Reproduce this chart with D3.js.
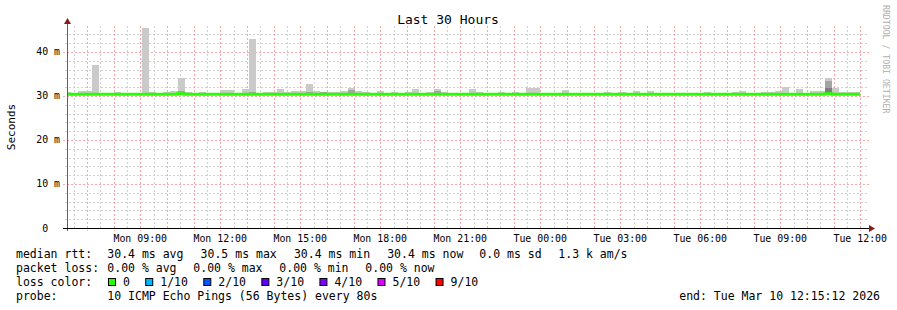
<!DOCTYPE html>
<html>
<head>
<meta charset="utf-8">
<script src="https://cdn.jsdelivr.net/npm/d3@7/dist/d3.min.js"></script>
<style>
body { margin: 0; background: #fff; }
text { font-family: "DejaVu Sans Mono", monospace; fill: #000; }
</style>
</head>
<body>
<div id="chart"></div>
<script>
// Graph window: last 30 hours up to the render time.
var graphEnd = new Date(Date.UTC(2026, 2, 10, 12, 15, 12));
var graphStart = new Date(graphEnd.getTime() - 30 * 3600 * 1000);

// One value per 16 minute consolidation step, first step starts Mon 06:08.
var firstStep = new Date(Date.UTC(2026, 2, 9, 6, 8, 0));
var stepSeconds = 960;

// median rtt per step (ms)
var medianRtt = [
  30.4, 30.4, 30.4, 30.4, 30.4, 30.4, 30.4, 30.4, 30.4, 30.4, 30.4, 30.4, 30.4, 30.4, 30.4, 30.4,
  30.5, 30.4, 30.4, 30.4, 30.4, 30.4, 30.4, 30.4, 30.4, 30.4, 30.4, 30.4, 30.4, 30.4, 30.4, 30.4,
  30.4, 30.4, 30.4, 30.4, 30.4, 30.4, 30.4, 30.4, 30.4, 30.4, 30.4, 30.4, 30.4, 30.4, 30.4, 30.4,
  30.4, 30.4, 30.4, 30.4, 30.4, 30.4, 30.4, 30.4, 30.4, 30.4, 30.4, 30.4, 30.4, 30.4, 30.4, 30.4,
  30.4, 30.4, 30.4, 30.4, 30.4, 30.4, 30.4, 30.4, 30.4, 30.4, 30.4, 30.4, 30.4, 30.4, 30.4, 30.4,
  30.4, 30.4, 30.4, 30.4, 30.4, 30.4, 30.4, 30.4, 30.4, 30.4, 30.4, 30.4, 30.4, 30.4, 30.4, 30.4,
  30.4, 30.4, 30.4, 30.4, 30.4, 30.4, 30.4, 30.4, 30.4, 30.4, 30.4, 30.5, 30.4, 30.4, 30.4, 30.4
];

// smoke: lowest ping and the upper pings (ping10, ping9, ping8) per step (ms)
var smokeLow = 30.2;
var smokeTop = [
  31.0, 30.5, 31.15, 31.15, 37.0, 30.5, 30.5, 30.85, 30.5, 30.5, 30.6, 45.5, 30.85, 30.5, 30.85, 31.15,
  34.1, 30.85, 30.5, 30.85, 30.6, 30.6, 31.4, 31.4, 30.6, 31.6, 42.95, 30.6, 30.85, 30.85, 31.6, 30.85,
  31.1, 31.1, 32.7, 31.1, 30.85, 30.85, 30.85, 31.1, 31.8, 31.1, 30.85, 30.5, 31.1, 30.5, 30.85, 30.5,
  30.85, 31.6, 30.5, 30.85, 31.6, 30.85, 30.5, 30.5, 30.5, 31.6, 30.85, 30.5, 30.5, 30.85, 30.5, 30.85,
  30.6, 31.8, 31.8, 30.5, 30.7, 30.5, 31.4, 30.5, 30.5, 30.5, 30.7, 30.5, 30.85, 30.7, 30.85, 30.5,
  31.1, 30.5, 31.1, 30.5, 30.5, 30.5, 30.5, 30.5, 30.7, 30.5, 30.85, 30.7, 30.5, 30.7, 30.85, 31.1,
  30.5, 30.5, 30.85, 30.85, 31.1, 32.0, 30.7, 31.6, 30.7, 31.1, 31.1, 34.1, 31.8, 30.85, 30.85, 30.85
];
var smokeTop2 = [
  30.4, 30.4, 30.4, 30.4, 30.4, 30.4, 30.4, 30.4, 30.4, 30.4, 30.4, 30.4, 30.4, 30.4, 30.4, 30.4,
  31.1, 30.4, 30.4, 30.4, 30.4, 30.4, 30.4, 30.4, 30.4, 30.4, 30.8, 30.4, 30.4, 30.4, 30.4, 30.4,
  30.4, 30.4, 31.0, 30.4, 30.8, 30.4, 30.4, 30.4, 31.4, 30.4, 30.4, 30.4, 30.4, 30.4, 30.4, 30.4,
  30.4, 30.4, 30.4, 30.4, 31.1, 30.4, 30.4, 30.4, 30.4, 30.4, 30.4, 30.4, 30.4, 30.4, 30.4, 30.4,
  30.4, 30.4, 30.4, 30.4, 30.4, 30.4, 30.4, 30.4, 30.4, 30.4, 30.4, 30.4, 30.4, 30.4, 30.4, 30.4,
  30.4, 30.4, 30.4, 30.4, 30.4, 30.4, 30.4, 30.4, 30.4, 30.4, 30.4, 30.4, 30.4, 30.4, 30.4, 30.4,
  30.4, 30.4, 30.4, 30.4, 30.4, 30.4, 30.4, 30.4, 30.4, 30.4, 30.4, 33.4, 30.4, 30.4, 30.4, 30.4
];
var smokeTop3 = [
  30.4, 30.4, 30.4, 30.4, 30.4, 30.4, 30.4, 30.4, 30.4, 30.4, 30.4, 30.4, 30.4, 30.4, 30.4, 30.4,
  30.4, 30.4, 30.4, 30.4, 30.4, 30.4, 30.4, 30.4, 30.4, 30.4, 30.4, 30.4, 30.4, 30.4, 30.4, 30.4,
  30.4, 30.4, 30.4, 30.4, 30.4, 30.4, 30.4, 30.4, 30.4, 30.4, 30.4, 30.4, 30.4, 30.4, 30.4, 30.4,
  30.4, 30.4, 30.4, 30.4, 30.4, 30.4, 30.4, 30.4, 30.4, 30.4, 30.4, 30.4, 30.4, 30.4, 30.4, 30.4,
  30.4, 30.4, 30.4, 30.4, 30.4, 30.4, 30.4, 30.4, 30.4, 30.4, 30.4, 30.4, 30.4, 30.4, 30.4, 30.4,
  30.4, 30.4, 30.4, 30.4, 30.4, 30.4, 30.4, 30.4, 30.4, 30.4, 30.4, 30.4, 30.4, 30.4, 30.4, 30.4,
  30.4, 30.4, 30.4, 30.4, 30.4, 30.4, 30.4, 30.4, 30.4, 30.4, 30.4, 31.8, 30.4, 30.4, 30.4, 30.4
];

// y axis ticks (ms)
var yMajorTicks = [0, 10, 20, 30, 40];
var yMinorTicks = [2, 4, 6, 8, 12, 14, 16, 18, 22, 24, 26, 28, 32, 34, 36, 38, 42, 44];

// legend texts
var rttStats = ["30.4 ms avg", "30.5 ms max", "30.4 ms min", "30.4 ms now"];
var rttExtra = ["0.0 ms sd", "1.3 k am/s"];
var lossStats = ["0.00 % avg", "0.00 % max", "0.00 % min", "0.00 % now"];
var lossLabels = ["0", "1/10", "2/10", "3/10", "4/10", "5/10", "9/10"];
var lossColors = ["#26ff00", "#00b8ff", "#0059ff", "#5e00ff", "#7e00ff", "#dd00ff", "#ff0000"];
var probeText = "10 ICMP Echo Pings (56 Bytes) every 80s";
var endText = "end: Tue Mar 10 12:15:12 2026";

(function() {
var W = 897, H = 310;
var pLeft = 67, pRight = 867, pTop = 26, pBottom = 228;
var charW = 6.94;
var gridGray = "#d2d2d2", gridRed = "#f3aaaa";

var svg = d3.select("#chart").append("svg")
    .attr("width", W)
    .attr("height", H);

var x = d3.scaleUtc().domain([graphStart, graphEnd]).range([pLeft, pRight]);
var y = d3.scaleLinear().domain([0, 45.9]).range([pBottom, pTop]);

// steps built from the arrays
var steps = medianRtt.map(function(m, i) {
  var t0 = new Date(firstStep.getTime() + i * stepSeconds * 1000);
  return {
    t0: t0,
    t1: new Date(t0.getTime() + stepSeconds * 1000),
    median: m, top: smokeTop[i], top2: smokeTop2[i], top3: smokeTop3[i]
  };
});

svg.append("defs").append("clipPath").attr("id", "plotclip")
  .append("rect").attr("x", pLeft).attr("y", 0).attr("width", pRight - pLeft).attr("height", pBottom);

// ---- grid ----
var grid = svg.append("g").attr("shape-rendering", "crispEdges");
var minorV = d3.utcMinute.every(30).range(graphStart, graphEnd).filter(function(d) { return d.getUTCMinutes() != 0; });
var majorV = d3.utcHour.every(1).range(graphStart, graphEnd);

grid.selectAll(".hmin").data(yMinorTicks).enter().append("line")
    .attr("x1", pLeft - 2).attr("x2", pRight + 2)
    .attr("y1", function(d) { return Math.round(y(d)) + 0.5; })
    .attr("y2", function(d) { return Math.round(y(d)) + 0.5; })
    .attr("stroke", gridGray).attr("stroke-dasharray", "2,2");
grid.selectAll(".vmin").data(minorV).enter().append("line")
    .attr("x1", function(d) { return Math.round(x(d)) + 0.5; })
    .attr("x2", function(d) { return Math.round(x(d)) + 0.5; })
    .attr("y1", pTop).attr("y2", pBottom + 2)
    .attr("stroke", gridGray).attr("stroke-dasharray", "2,2");
grid.selectAll(".hmaj").data(yMajorTicks.filter(function(d) { return d > 0; })).enter().append("line")
    .attr("x1", pLeft - 4).attr("x2", pRight + 2)
    .attr("y1", function(d) { return Math.round(y(d)) + 0.5; })
    .attr("y2", function(d) { return Math.round(y(d)) + 0.5; })
    .attr("stroke", gridRed).attr("stroke-dasharray", "2,2");
grid.selectAll(".vmaj").data(majorV).enter().append("line")
    .attr("x1", function(d) { return Math.round(x(d)) + 0.5; })
    .attr("x2", function(d) { return Math.round(x(d)) + 0.5; })
    .attr("y1", pTop).attr("y2", pBottom + 3)
    .attr("stroke", gridRed).attr("stroke-dasharray", "2,2");

// ---- smoke ----
var smoke = svg.append("g").attr("clip-path", "url(#plotclip)").attr("shape-rendering", "crispEdges");
function smokeLayer(key, color) {
  smoke.append("g").selectAll("rect")
    .data(steps.filter(function(d) { return d[key] > smokeLow; }))
    .enter().append("rect")
      .attr("x", function(d) { return Math.round(x(d.t0)); })
      .attr("width", function(d) { return Math.round(x(d.t1)) - Math.round(x(d.t0)); })
      .attr("y", function(d) { return Math.round(y(d[key])); })
      .attr("height", function(d) { return Math.round(y(smokeLow)) - Math.round(y(d[key])); })
      .attr("fill", color);
}
smokeLayer("top", "#cacaca");
smokeLayer("top2", "#a4a4a4");
smokeLayer("top3", "#7e7e7e");

// ---- median line ----
var medPts = steps.map(function(d) { return [x(d.t0), y(d.median)]; });
var last = steps[steps.length - 1];
medPts.push([x(last.t1), y(last.median)]);
svg.append("path")
    .attr("clip-path", "url(#plotclip)")
    .attr("d", d3.line().curve(d3.curveStepAfter)(medPts))
    .attr("fill", "none")
    .attr("stroke", lossColors[0])
    .attr("stroke-width", 3);

// ---- axes ----
svg.append("line").attr("x1", pLeft + 0.5).attr("x2", pLeft + 0.5).attr("y1", pBottom + 3).attr("y2", 22)
    .attr("stroke", "#606060");
svg.append("line").attr("x1", pLeft - 4).attr("x2", pRight + 2).attr("y1", pBottom + 0.5).attr("y2", pBottom + 0.5)
    .attr("stroke", "#000");
svg.append("path").attr("d", "M64,24L67.5,18L71,24Z").attr("fill", "#8b1a1a");
svg.append("path").attr("d", "M869,225L875,228.5L869,232Z").attr("fill", "#8b1a1a");

// x tick labels every 3 hours
svg.append("g").selectAll("text")
  .data(d3.utcHour.every(3).range(graphStart, graphEnd))
  .enter().append("text")
    .attr("x", function(d) { return x(d); })
    .attr("y", 242)
    .attr("text-anchor", "middle")
    .style("font-size", "9.9px")
    .text(d3.utcFormat("%a %H:%M"));

// y tick labels
svg.append("g").selectAll("text")
  .data(yMajorTicks).enter().append("text")
    .attr("x", 60)
    .attr("y", function(d) { return y(d) + 3.5; })
    .attr("text-anchor", "end")
    .style("font-size", "9.9px")
    .style("white-space", "pre")
    .text(function(d) { return d == 0 ? "0  " : d + " m"; });

// titles
svg.append("text").attr("x", 448).attr("y", 24).attr("text-anchor", "middle")
    .style("font-size", "13px").text("Last 30 Hours");
svg.append("text").attr("transform", "translate(15,127) rotate(-90)").attr("text-anchor", "middle")
    .style("font-size", "11px").text("Seconds");
svg.append("text").attr("transform", "translate(883,5) rotate(90)")
    .style("font-size", "8.2px").style("fill", "#b0b0b0").text("RRDTOOL / TOBI OETIKER");

// ---- legend ----
var legend = svg.append("g").style("font-size", "11.5px").style("white-space", "pre");
legend.append("text").attr("x", 16).attr("y", 258).text("median rtt:");
legend.selectAll(".rtt").data(rttStats).enter().append("text")
    .attr("x", function(d, i) { return 107.3 + i * 93.3; }).attr("y", 258).text(function(d) { return d; });
legend.append("text").attr("x", 479.3).attr("y", 258).text(rttExtra[0]);
legend.append("text").attr("x", 558.3).attr("y", 258).text(rttExtra[1]);

legend.append("text").attr("x", 16).attr("y", 272).text("packet loss:");
legend.selectAll(".loss").data(lossStats).enter().append("text")
    .attr("x", function(d, i) { return 107.3 + i * 86; }).attr("y", 272).text(function(d) { return d; });

legend.append("text").attr("x", 16).attr("y", 286).text("loss color:");
var lx = 108;
lossLabels.forEach(function(lab, i) {
  legend.append("rect").attr("x", lx + 0.5).attr("y", 278.5).attr("width", 7).attr("height", 7)
      .attr("fill", lossColors[i]).attr("stroke", "#000");
  legend.append("text").attr("x", lx + 15).attr("y", 286).text(lab);
  lx += 15 + lab.length * charW + 15.3;
});

legend.append("text").attr("x", 16).attr("y", 300).text("probe:");
legend.append("text").attr("x", 107.3).attr("y", 300).text(probeText);
legend.append("text").attr("x", 880).attr("y", 300).attr("text-anchor", "end").text(endText);
})();
</script>
</body>
</html>
